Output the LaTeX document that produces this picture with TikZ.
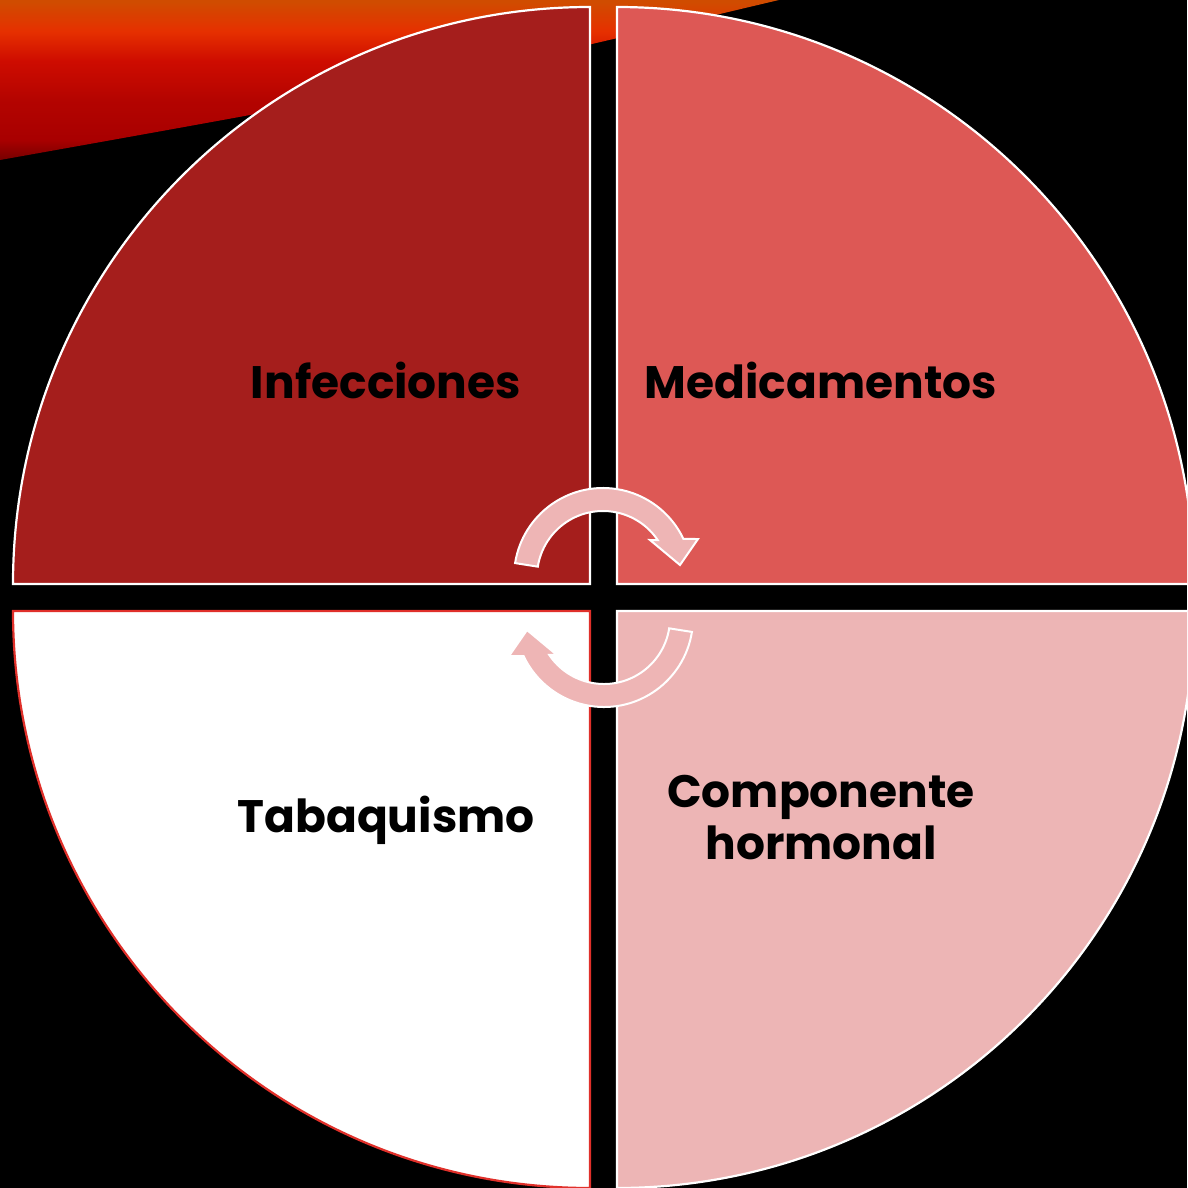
\documentclass[tikz,border=0pt]{standalone}
\usepackage{fontspec}
\setmainfont{Poppins}
\usetikzlibrary{calc}
\definecolor{qTL}{HTML}{A51E1C}
\definecolor{qTR}{HTML}{DD5855}
\definecolor{qBR}{HTML}{EDB5B5}
\definecolor{qBLline}{HTML}{E0302A}
\definecolor{arrowfill}{HTML}{EEB5B5}
\definecolor{stA}{HTML}{D04C00}
\definecolor{stO}{HTML}{E63000}
\definecolor{stR}{HTML}{CE0C00}
\definecolor{stD}{HTML}{A80000}
\definecolor{stC}{HTML}{760000}
\pgfdeclareverticalshading{streakshade}{100bp}{color(0bp)=(stC); color(25bp)=(stC); color(31bp)=(stD); color(43bp)=(stD!70!stR); color(55bp)=(stR); color(64bp)=(stO); color(73bp)=(stA); color(100bp)=(stA)}
\begin{document}
\begin{tikzpicture}[x=1pt,y=1pt,yscale=-1,
  quad/.style={draw=white,line width=2.2pt},
  cyc/.style={fill=arrowfill,draw=white,line width=2pt,line join=miter},
  lbl/.style={font=\bfseries\fontsize{45.5}{54}\selectfont,text=black,anchor=base,align=center,inner sep=0pt}]
\useasboundingbox (0,0) rectangle (1187,1188);
\fill[black] (0,0) rectangle (1187,1188);
\clip (0,0) rectangle (1187,1188);
% background streak
\shade[shading=streakshade]
  (0,-5) -- (800,-5) .. controls (420,85) .. (0,160) -- cycle;
% quadrants
\path[quad,fill=qTL] (590,584) -- (13,584) arc (180:270:577) -- cycle;
\path[quad,fill=qTR] (617,584) -- (617,7) arc (270:360:577) -- cycle;
\path[quad,fill=qBR] (617,611) -- (1194,611) arc (0:90:577) -- cycle;
\path[draw=qBLline,line width=2.2pt,fill=white] (590,611) -- (590,1188) arc (90:180:577) -- cycle;
% cycle arrows
\path[cyc] (603,577) ++(189:89) arc (189:334.7:89) -- (698,539) -- (680,565) -- (650,540)
  -- ($(603,577)+(326:66)$) arc (326:189:66) -- cycle;
\begin{scope}[rotate around={180:(603.5,597.5)}]
\path[cyc] (603,577) ++(189:89) arc (189:334.7:89) -- (698,539) -- (680,565) -- (650,540)
  -- ($(603,577)+(326:66)$) arc (326:189:66) -- cycle;
\end{scope}
% labels
\node[lbl] (inf) at (386,398) {Infecciones};
\node[lbl] (med) at (821,398) {Medicamentos};
\node[lbl] (tab) at (386,832) {Tabaquismo};
\node[lbl] (com) at (821,807) {Componente};
\node[lbl] (hor) at (821,859) {hormonal};
\end{tikzpicture}
\end{document}
